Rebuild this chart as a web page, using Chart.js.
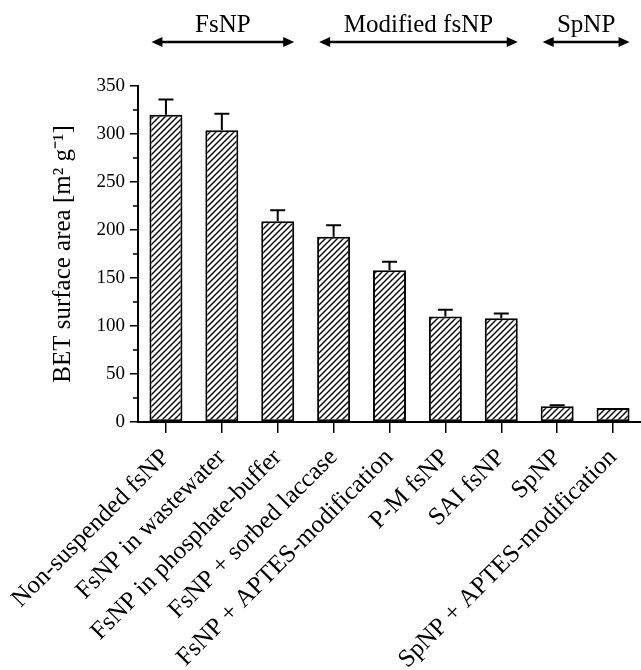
<!DOCTYPE html>
<html>
<head>
<meta charset="utf-8">
<script src="https://cdn.jsdelivr.net/npm/chart.js@4.4.0/dist/chart.umd.min.js"></script>
<style>
  html, body { margin: 0; padding: 0; background: #fff; }
</style>
</head>
<body>
<canvas id="betChart" width="641" height="670"></canvas>
<script>
// dati
const categories = [
  'Non-suspended fsNP',
  'FsNP in wastewater',
  'FsNP in phosphate-buffer',
  'FsNP + sorbed laccase',
  'FsNP + APTES-modification',
  'P-M fsNP',
  'SAI fsNP',
  'SpNP',
  'SpNP + APTES-modification'
];
const betValues = [320, 304, 209, 193, 158, 110, 108, 16.5, 14.5];
const betErrors = [16, 17, 11.5, 12, 9, 7, 5, 1, 0];
const yMajorTicks = [0, 50, 100, 150, 200, 250, 300, 350];
const yMinorTicks = [25, 75, 125, 175, 225, 275, 325];

const groupLabels = ['FsNP', 'Modified fsNP', 'SpNP'];
const groupFirst = [0, 3, 7];
const groupLast = [2, 6, 8];

const serif = "'Liberation Serif', 'Times New Roman', serif";

// tratteggio diagonale delle barre
function makeHatch() {
  const c = document.createElement('canvas');
  c.width = 6;
  c.height = 6;
  const g = c.getContext('2d');
  g.fillStyle = '#fff';
  g.fillRect(0, 0, 6, 6);
  g.strokeStyle = '#000';
  g.lineWidth = 1.4;
  g.beginPath();
  g.moveTo(-1, 7); g.lineTo(7, -1);
  g.moveTo(-1, 1); g.lineTo(1, -1);
  g.moveTo(5, 7); g.lineTo(7, 5);
  g.stroke();
  return g.createPattern(c, 'repeat');
}

// barre d'errore (solo verso l'alto)
const errorBars = {
  id: 'errorBars',
  afterDatasetsDraw(chart) {
    const ctx = chart.ctx;
    const y = chart.scales.y;
    const bars = chart.getDatasetMeta(0).data;
    ctx.save();
    ctx.strokeStyle = '#000';
    ctx.lineWidth = 2;
    bars.forEach((bar, i) => {
      if (!betErrors[i]) return;
      const top = y.getPixelForValue(betValues[i] + betErrors[i]);
      ctx.beginPath();
      ctx.moveTo(bar.x, bar.y);
      ctx.lineTo(bar.x, top);
      ctx.moveTo(bar.x - 7.5, top);
      ctx.lineTo(bar.x + 7.5, top);
      ctx.stroke();
    });
    ctx.restore();
  }
};

// tacche minori asse y
const minorTicks = {
  id: 'minorTicks',
  afterDraw(chart) {
    const ctx = chart.ctx;
    const y = chart.scales.y;
    const left = chart.chartArea.left;
    ctx.save();
    ctx.strokeStyle = '#000';
    ctx.lineWidth = 1.5;
    yMinorTicks.forEach(v => {
      const py = y.getPixelForValue(v);
      ctx.beginPath();
      ctx.moveTo(left - 5, py);
      ctx.lineTo(left, py);
      ctx.stroke();
    });
    ctx.restore();
  }
};

// frecce dei gruppi in alto
function arrowHead(ctx, x, y, dir) {
  ctx.beginPath();
  ctx.moveTo(x, y);
  ctx.lineTo(x - dir * 11, y - 5);
  ctx.lineTo(x - dir * 11, y + 5);
  ctx.closePath();
  ctx.fill();
}

const groupArrows = {
  id: 'groupArrows',
  afterDraw(chart) {
    const ctx = chart.ctx;
    const bars = chart.getDatasetMeta(0).data;
    const ay = 42;
    ctx.save();
    ctx.strokeStyle = '#000';
    ctx.fillStyle = '#000';
    ctx.lineWidth = 2.5;
    ctx.font = '25px ' + serif;
    ctx.textAlign = 'center';
    ctx.textBaseline = 'alphabetic';
    groupLabels.forEach((label, g) => {
      const a = bars[groupFirst[g]];
      const b = bars[groupLast[g]];
      const x0 = a.x - a.width / 2 + 2;
      const x1 = b.x + b.width / 2;
      ctx.beginPath();
      ctx.moveTo(x0 + 6, ay);
      ctx.lineTo(x1 - 6, ay);
      ctx.stroke();
      arrowHead(ctx, x0, ay, -1);
      arrowHead(ctx, x1, ay, 1);
      ctx.fillText(label, (x0 + x1) / 2, 32);
    });
    ctx.restore();
  }
};

const ctx = document.getElementById('betChart').getContext('2d');

new Chart(ctx, {
  type: 'bar',
  data: {
    labels: categories,
    datasets: [{
      data: betValues,
      backgroundColor: makeHatch(),
      borderColor: '#000',
      borderWidth: 2,
      borderSkipped: false,
      barPercentage: 0.59,
      categoryPercentage: 1.0
    }]
  },
  options: {
    responsive: false,
    animation: false,
    devicePixelRatio: 1,
    layout: { padding: { top: 86, left: 48, right: 0, bottom: 0 } },
    plugins: {
      legend: { display: false },
      tooltip: { enabled: false }
    },
    scales: {
      x: {
        offset: true,
        border: { color: '#000', width: 2 },
        grid: {
          offset: false,
          drawOnChartArea: false,
          drawTicks: true,
          tickLength: 11,
          color: '#000',
          lineWidth: 1.5
        },
        ticks: {
          color: '#000',
          font: { family: serif, size: 25 },
          minRotation: 45,
          maxRotation: 45,
          autoSkip: false,
          padding: 10
        },
        afterFit(scale) {
          scale.height = 248;
          scale.paddingLeft = 0;
          scale.paddingRight = 0;
        }
      },
      y: {
        min: 0,
        max: 350,
        border: { color: '#000', width: 2 },
        grid: {
          drawOnChartArea: false,
          drawTicks: true,
          tickLength: 8,
          color: '#000',
          lineWidth: 1.5
        },
        afterBuildTicks(scale) {
          scale.ticks = yMajorTicks.map(v => ({ value: v }));
        },
        ticks: {
          color: '#000',
          font: { family: serif, size: 19 },
          padding: 5
        },
        title: {
          display: true,
          text: 'BET surface area [m² g⁻¹]',
          color: '#000',
          font: { family: serif, size: 25 },
          padding: { top: 0, bottom: 0 }
        },
        afterFit(scale) { scale.width = 90; }
      }
    }
  },
  plugins: [errorBars, minorTicks, groupArrows]
});
</script>
</body>
</html>
